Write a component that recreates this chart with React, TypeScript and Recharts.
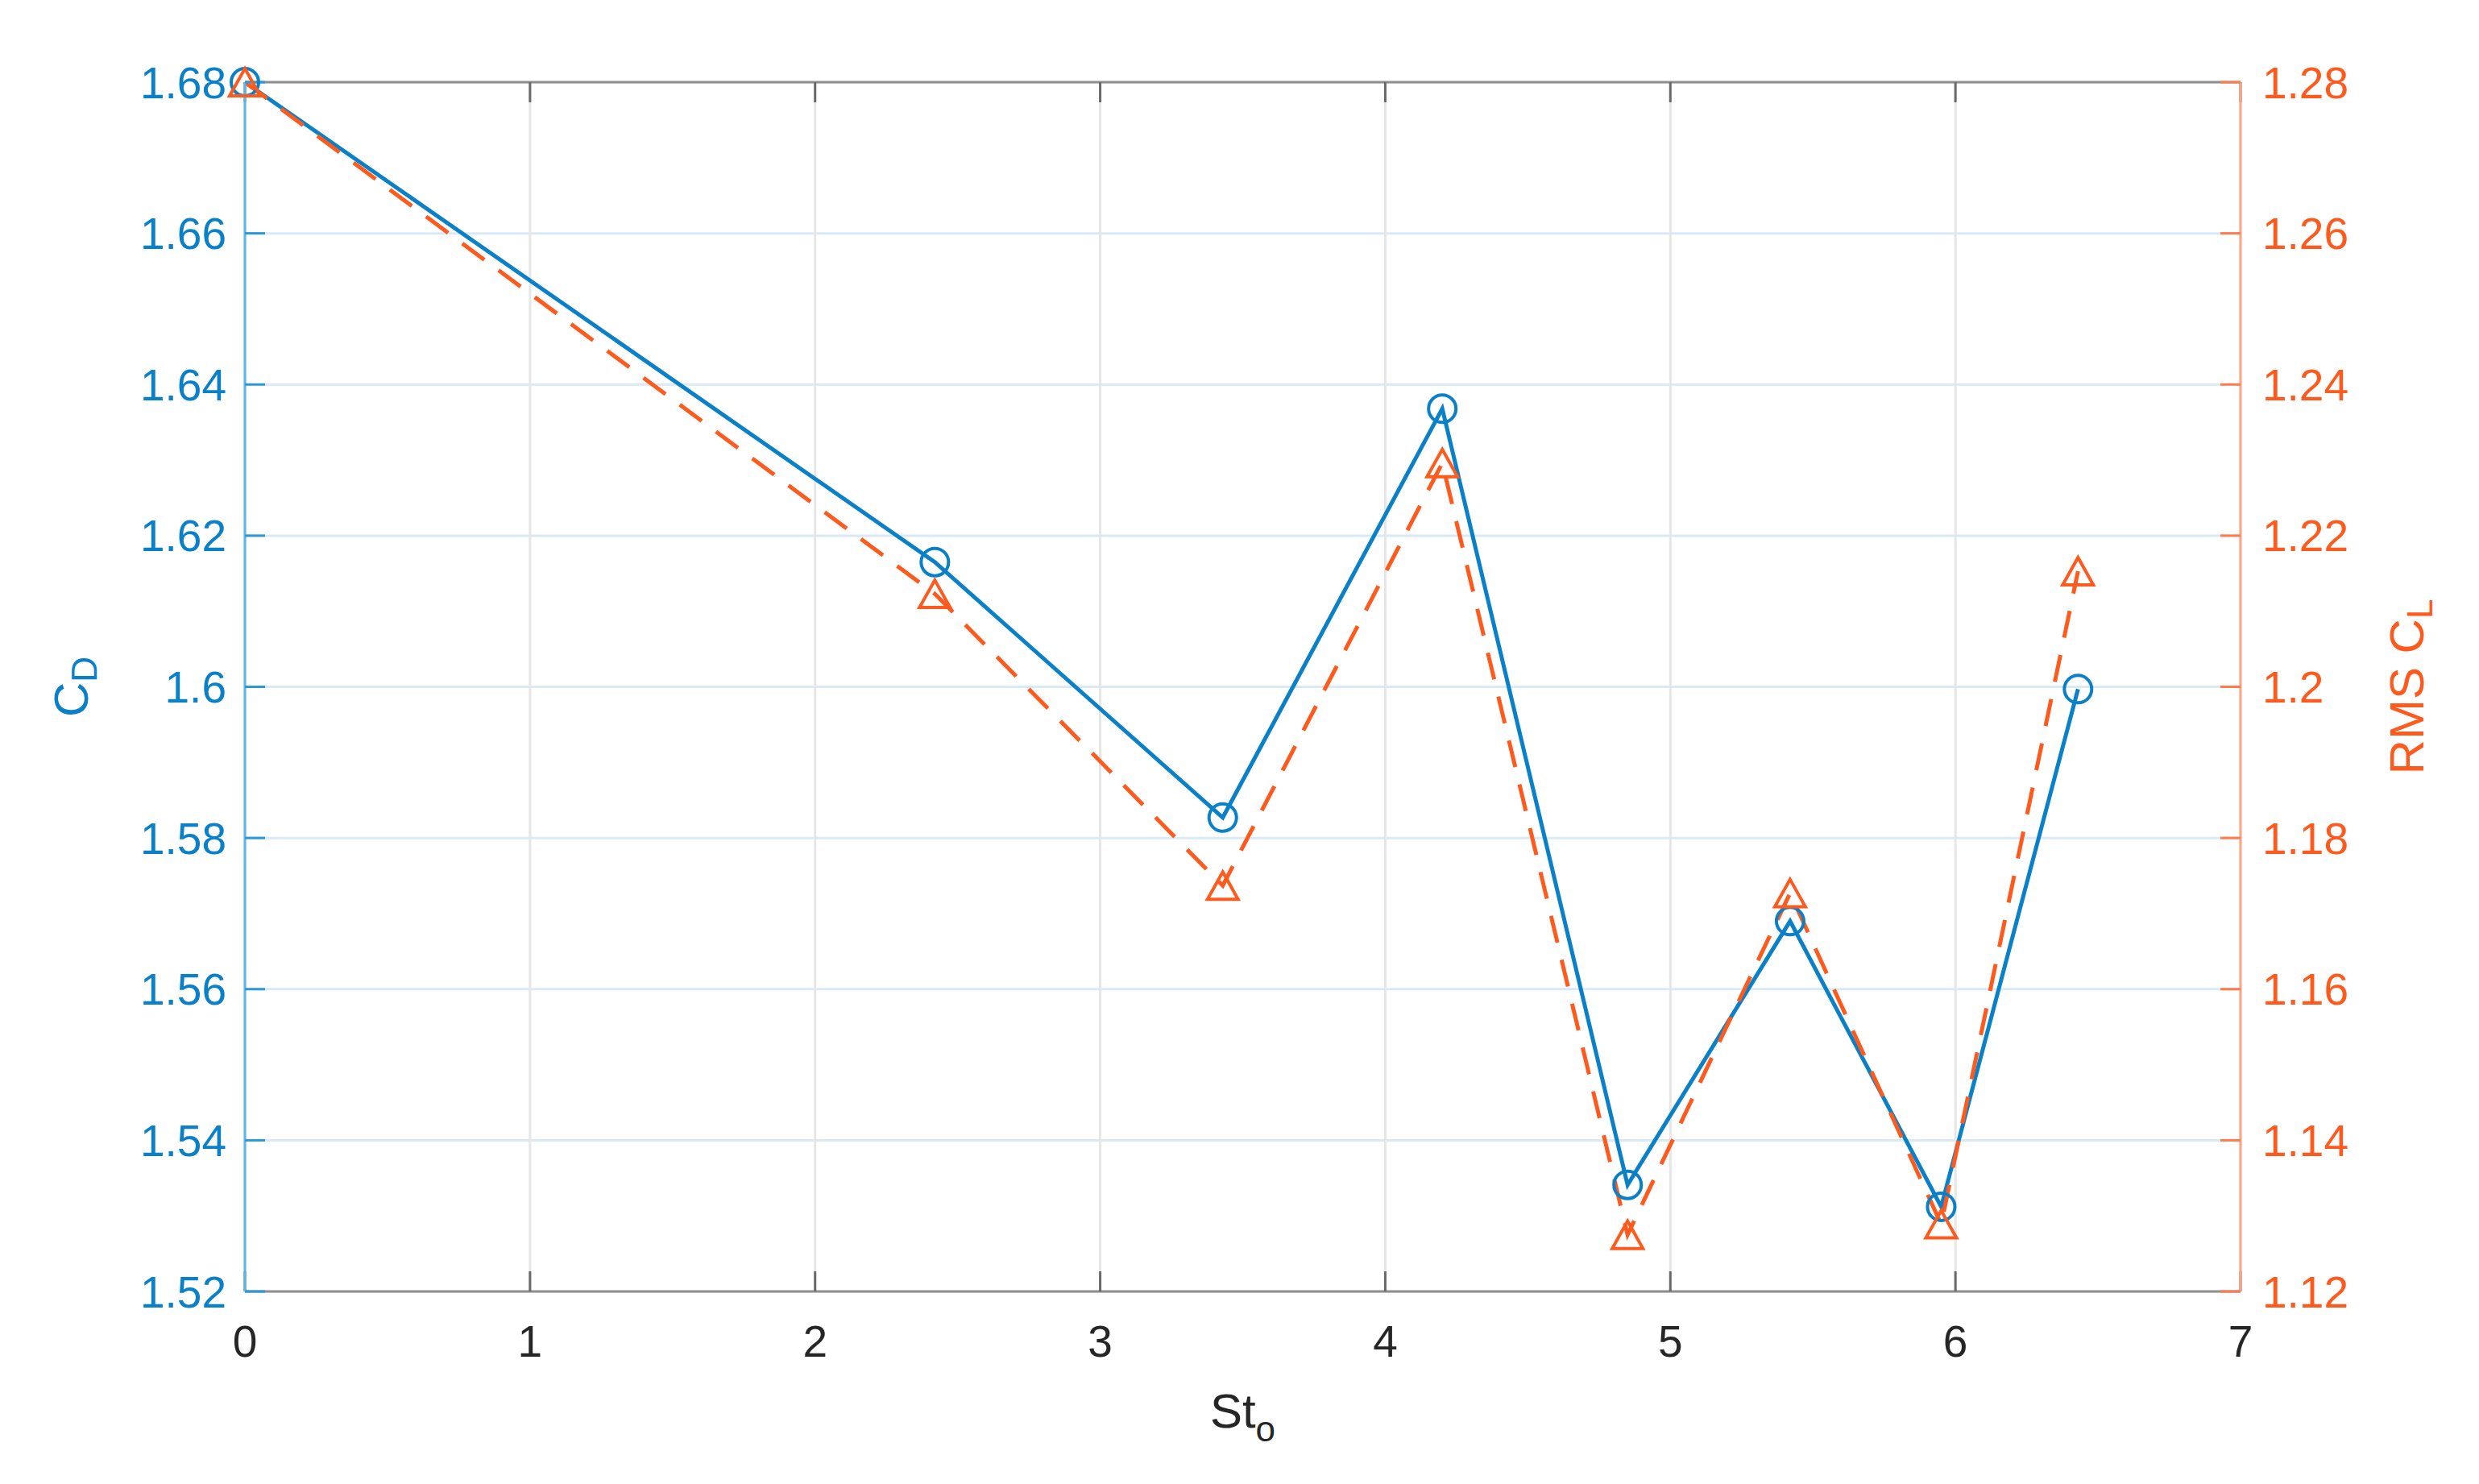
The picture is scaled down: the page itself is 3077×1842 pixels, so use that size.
import React from 'react';
import { LineChart, Line, XAxis, YAxis, CartesianGrid, Label } from 'recharts';

// values
const st = [0, 2.42, 3.43, 4.2, 4.85, 5.42, 5.95, 6.43];
const cd = [1.68, 1.6165, 1.5827, 1.6368, 1.5341, 1.569, 1.5312, 1.5997];
const rmsCl = [1.28, 1.2123, 1.1737, 1.2296, 1.1275, 1.1727, 1.1289, 1.2153];

const xTicks = [0, 1, 2, 3, 4, 5, 6, 7];
const cdTicks = [1.52, 1.54, 1.56, 1.58, 1.6, 1.62, 1.64, 1.66, 1.68];
const clTicks = [1.12, 1.14, 1.16, 1.18, 1.2, 1.22, 1.24, 1.26, 1.28];

const data = st.map((x, i) => ({ st: x, cd: cd[i], rms: rmsCl[i] }));

const W = 3077;
const H = 1842;
const BLUE = '#0a80c8';
const ORANGE = '#ff5a1e';
const FONT = '"Liberation Sans", Arial, Helvetica, sans-serif';
const TICK_FS = 55;
const LABEL_FS = 60;

const fmt = (v: number) => String(+v.toFixed(2));

const circleDot = (p: any) => (
  <circle key={`c-${p.index}`} cx={p.cx} cy={p.cy} r={17} fill="none" stroke={BLUE} strokeWidth={4} />
);

const triDot = (p: any) => {
  const hw = 19;
  const hh = 17;
  const d = `M${p.cx},${p.cy - hh} L${p.cx + hw},${p.cy + hh} L${p.cx - hw},${p.cy + hh} Z`;
  return <path key={`t-${p.index}`} d={d} fill="none" stroke={ORANGE} strokeWidth={4} strokeLinejoin="miter" />;
};

const cdLabel = (props: any) => {
  const vb = props.viewBox;
  const cx = vb.x + 88;
  const cy = vb.y + vb.height / 2;
  return (
    <text x={cx} y={cy} transform={`rotate(-90 ${cx} ${cy})`} textAnchor="middle" dominantBaseline="central"
      fill={BLUE} fontFamily={FONT} fontSize={LABEL_FS}>
      <tspan>C</tspan>
      <tspan fontSize={44} dy={16}>D</tspan>
    </text>
  );
};

const clLabel = (props: any) => {
  const vb = props.viewBox;
  const cx = vb.x + 206;
  const cy = vb.y + vb.height / 2;
  return (
    <text x={cx} y={cy} transform={`rotate(-90 ${cx} ${cy})`} textAnchor="middle" dominantBaseline="central"
      fill={ORANGE} fontFamily={FONT} fontSize={LABEL_FS}>
      <tspan>RMS C</tspan>
      <tspan fontSize={44} dy={16}>L</tspan>
    </text>
  );
};

const stLabel = (props: any) => {
  const vb = props.viewBox;
  const cx = vb.x + vb.width / 2;
  const cy = vb.y + 148;
  return (
    <text x={cx} y={cy} textAnchor="middle" dominantBaseline="central" fill="#262626" fontFamily={FONT} fontSize={LABEL_FS}>
      <tspan>St</tspan>
      <tspan fontSize={44} dy={22}>o</tspan>
    </text>
  );
};

export default function App() {
  return (
    <div style={{ width: W, height: H, background: '#fff' }}>
      <style>{'body{margin:0;}'}</style>
      <LineChart width={W} height={H} data={data} margin={{ top: 0, right: 0, bottom: 0, left: 0 }}>
        <CartesianGrid yAxisId="left" horizontal={true} vertical={false} stroke="#d9eaf6" strokeWidth={3} />
        <CartesianGrid yAxisId="left" horizontal={false} vertical={true} stroke="#e6e6e6" strokeWidth={3} />
        <XAxis
          dataKey="st"
          type="number"
          domain={[0, 7]}
          ticks={xTicks}
          height={239}
          axisLine={{ stroke: '#8f8f8f', strokeWidth: 3 }}
          tickLine={{ stroke: '#6a6a6a', strokeWidth: 3 }}
          tickSize={-25}
          tickMargin={67}
          tick={{ fill: '#262626', fontSize: TICK_FS, fontFamily: FONT }}
        >
          <Label content={stLabel} />
        </XAxis>
        <XAxis
          xAxisId="top"
          orientation="top"
          dataKey="st"
          type="number"
          domain={[0, 7]}
          ticks={xTicks}
          height={102}
          axisLine={{ stroke: '#8f8f8f', strokeWidth: 3 }}
          tickLine={{ stroke: '#6a6a6a', strokeWidth: 3 }}
          tickSize={-25}
          tickFormatter={() => ''}
        />
        <YAxis
          yAxisId="left"
          orientation="left"
          type="number"
          domain={[1.52, 1.68]}
          ticks={cdTicks}
          width={304}
          axisLine={{ stroke: '#5cb6e6', strokeWidth: 3 }}
          tickLine={{ stroke: '#2d98d8', strokeWidth: 3 }}
          tickSize={-25}
          tickMargin={48}
          tickFormatter={fmt}
          tick={{ fill: BLUE, fontSize: TICK_FS, fontFamily: FONT }}
        >
          <Label content={cdLabel} />
        </YAxis>
        <YAxis
          yAxisId="right"
          orientation="right"
          type="number"
          domain={[1.12, 1.28]}
          ticks={clTicks}
          width={296}
          axisLine={{ stroke: '#ffa585', strokeWidth: 3 }}
          tickLine={{ stroke: '#ff7a4c', strokeWidth: 3 }}
          tickSize={-25}
          tickMargin={52}
          tickFormatter={fmt}
          tick={{ fill: ORANGE, fontSize: TICK_FS, fontFamily: FONT }}
        >
          <Label content={clLabel} />
        </YAxis>
        <Line
          yAxisId="left"
          dataKey="cd"
          type="linear"
          stroke={BLUE}
          strokeWidth={5}
          dot={circleDot}
          activeDot={false}
          isAnimationActive={false}
        />
        <Line
          yAxisId="right"
          dataKey="rms"
          type="linear"
          stroke={ORANGE}
          strokeWidth={5}
          strokeDasharray="34 22"
          dot={triDot}
          activeDot={false}
          isAnimationActive={false}
        />
      </LineChart>
    </div>
  );
}
